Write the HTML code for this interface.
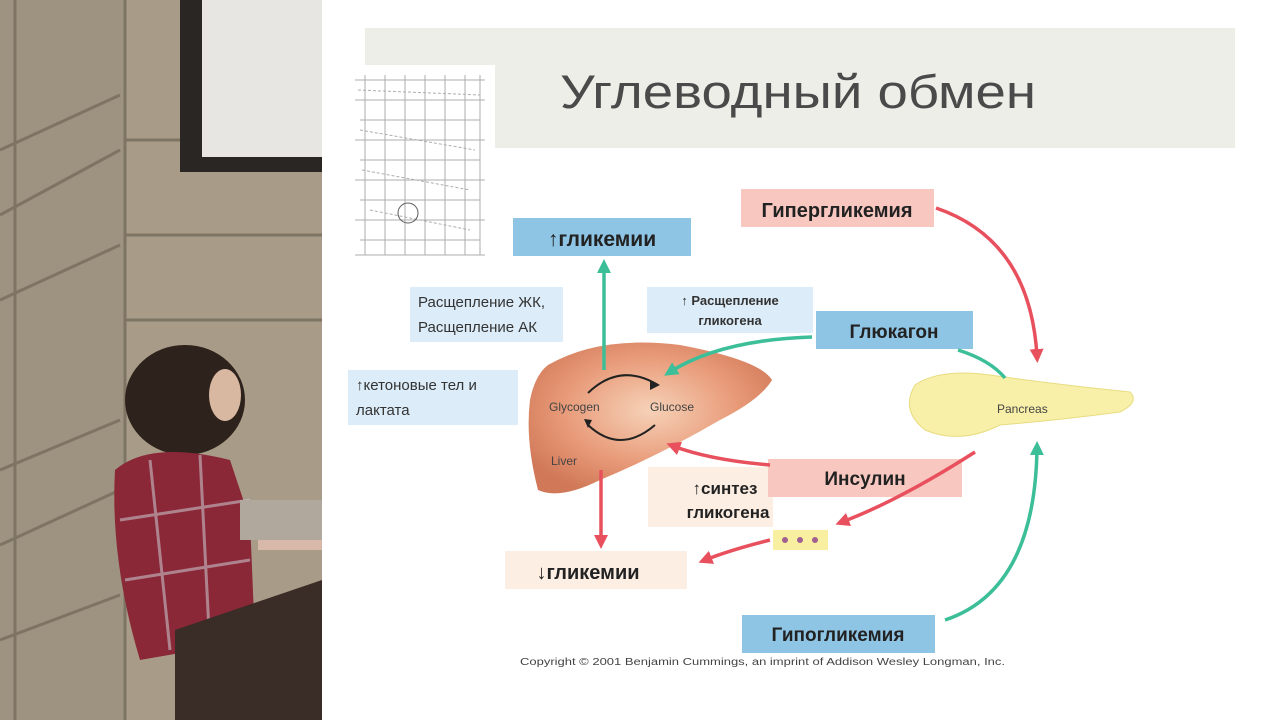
<!DOCTYPE html>
<html><head><meta charset="utf-8"><style>
html,body{margin:0;padding:0;width:1280px;height:720px;overflow:hidden;background:#fff}
svg{display:block}
text{font-family:"Liberation Sans","DejaVu Sans",sans-serif}
</style></head><body>
<svg width="1280" height="720" viewBox="0 0 1280 720" xmlns="http://www.w3.org/2000/svg">
<defs>
<marker id="ag" markerWidth="4" markerHeight="4" refX="2" refY="2" orient="auto" markerUnits="strokeWidth"><path d="M0,0 L4,2 L0,4 z" fill="#3cbf98"/></marker>
<marker id="ar" markerWidth="4" markerHeight="4" refX="2" refY="2" orient="auto" markerUnits="strokeWidth"><path d="M0,0 L4,2 L0,4 z" fill="#e8505e"/></marker>
<radialGradient id="lv" cx="0.5" cy="0.45" r="0.6"><stop offset="0" stop-color="#f6d2b8"/><stop offset="0.6" stop-color="#e89a78"/><stop offset="1" stop-color="#d07858"/></radialGradient>
</defs>
<!-- room photo -->
<rect x="0" y="0" width="322" height="720" fill="#a89c88"/>
<rect x="0" y="0" width="125" height="720" fill="#9e9380"/>
<g stroke="#7e7464" stroke-width="3" fill="none">
<path d="M0,150 L120,95"/><path d="M0,215 L120,150"/><path d="M0,300 L120,245"/><path d="M0,470 L120,420"/><path d="M0,545 L120,490"/><path d="M0,640 L120,595"/>
<path d="M15,0 L15,720"/><path d="M125,0 L125,720"/>
<path d="M125,140 L185,140"/><path d="M125,235 L322,235"/><path d="M125,320 L322,320"/>
</g>
<rect x="180" y="0" width="142" height="172" fill="#2a2624"/>
<rect x="202" y="0" width="120" height="157" fill="#e8e6e2"/>
<!-- person -->
<ellipse cx="185" cy="400" rx="60" ry="55" fill="#2e221c"/>
<ellipse cx="225" cy="395" rx="16" ry="26" fill="#d8b8a0"/>
<path d="M115,470 Q150,440 230,460 L250,520 L255,640 L140,660 Q110,560 115,470 z" fill="#8a2838"/>
<path d="M120,520 L250,500 M125,580 L250,560 M150,460 L170,650 M200,455 L210,650" stroke="#c8c0c8" stroke-width="3" opacity="0.6"/>
<rect x="258" y="520" width="64" height="30" fill="#d8b8a8"/>
<path d="M175,630 L322,580 L322,720 L175,720 z" fill="#3a2c26"/>
<rect x="240" y="500" width="82" height="40" fill="#b0a89c"/>
<!-- slide -->
<rect x="322" y="0" width="958" height="720" fill="#ffffff"/>
<rect x="365" y="28" width="870" height="120" fill="#eeeee8"/>
<text x="560" y="108" font-size="47" fill="#4a4a4a" textLength="476" lengthAdjust="spacingAndGlyphs">Углеводный обмен</text>
<!-- mini pathway image -->
<rect x="345" y="65" width="150" height="195" fill="#fff"/>
<g stroke="#999" stroke-width="1" fill="none" opacity="0.8">
<path d="M355,80 L485,80 M355,100 L485,100 M360,120 L480,120 M355,140 L485,140 M360,160 L480,160 M355,180 L485,180 M360,200 L480,200 M355,220 L485,220 M360,240 L480,240 M355,255 L485,255"/>
<path d="M365,75 L365,255 M385,75 L385,255 M405,75 L405,255 M425,75 L425,255 M445,75 L445,255 M465,75 L465,255 M480,75 L480,255"/>
<path d="M358,90 L480,95 M360,130 L475,150 M362,170 L470,190 M370,210 L470,230" stroke-dasharray="3 2"/>
<circle cx="408" cy="213" r="10" stroke="#333"/>
</g>
<!-- boxes -->
<rect x="513" y="218" width="178" height="38" fill="#8ec4e4"/>
<text x="602" y="246" font-size="21" font-weight="bold" fill="#222" text-anchor="middle">↑гликемии</text>
<rect x="741" y="189" width="193" height="38" fill="#f8c8c0"/>
<text x="837" y="217" font-size="20" font-weight="bold" fill="#222" text-anchor="middle">Гипергликемия</text>
<rect x="410" y="287" width="153" height="55" fill="#dcecf8"/>
<text x="418" y="307" font-size="15" fill="#333">Расщепление ЖК,</text>
<text x="418" y="332" font-size="15" fill="#333">Расщепление АК</text>
<rect x="647" y="287" width="166" height="46" fill="#dcecf8"/>
<text x="730" y="305" font-size="13" font-weight="bold" fill="#333" text-anchor="middle">↑ Расщепление</text>
<text x="730" y="325" font-size="13" font-weight="bold" fill="#333" text-anchor="middle">гликогена</text>
<rect x="816" y="311" width="157" height="38" fill="#8ec4e4"/>
<text x="894" y="338" font-size="19" font-weight="bold" fill="#222" text-anchor="middle">Глюкагон</text>
<rect x="348" y="370" width="170" height="55" fill="#dcecf8"/>
<text x="356" y="390" font-size="15" fill="#333">↑кетоновые тел и</text>
<text x="356" y="415" font-size="15" fill="#333">лактата</text>
<!-- liver -->
<path d="M548,365 Q600,335 680,345 Q760,360 772,380 Q760,400 720,420 Q660,455 600,480 Q560,500 538,490 Q525,440 530,400 Q535,375 548,365 z" fill="url(#lv)"/>
<text x="549" y="411" font-size="12" fill="#444">Glycogen</text>
<text x="650" y="411" font-size="12" fill="#444">Glucose</text>
<text x="551" y="465" font-size="12" fill="#444">Liver</text>
<path d="M588,393 Q620,362 658,385" stroke="#222" stroke-width="2" fill="none"/>
<path d="M655,425 Q620,455 588,425" stroke="#222" stroke-width="2" fill="none"/>
<path d="M650,380 l10,5 l-10,5 z M592,420 l-8,-1 l4,9 z" fill="#222"/>
<!-- pancreas -->
<path d="M915,385 Q940,368 990,375 Q1060,385 1130,392 Q1140,402 1120,412 Q1060,420 1000,425 Q960,445 925,430 Q900,410 915,385 z" fill="#f8f0a8" stroke="#e8dc80"/>
<text x="997" y="413" font-size="12" fill="#444">Pancreas</text>
<!-- insulin etc -->
<rect x="648" y="467" width="125" height="60" fill="#fdeee4"/>
<text x="725" y="494" font-size="17" font-weight="bold" fill="#222" text-anchor="middle">↑синтез</text>
<text x="728" y="518" font-size="17" font-weight="bold" fill="#222" text-anchor="middle">гликогена</text>
<rect x="768" y="459" width="194" height="38" fill="#f8c8c0"/>
<text x="865" y="485" font-size="19" font-weight="bold" fill="#222" text-anchor="middle">Инсулин</text>
<rect x="773" y="530" width="55" height="20" fill="#f8f0a0"/>
<circle cx="785" cy="540" r="3" fill="#a06090"/><circle cx="800" cy="540" r="3" fill="#a06090"/><circle cx="815" cy="540" r="3" fill="#a06090"/>
<rect x="505" y="551" width="182" height="38" fill="#fdeee4"/>
<text x="588" y="579" font-size="20" font-weight="bold" fill="#222" text-anchor="middle">↓гликемии</text>
<rect x="742" y="615" width="193" height="38" fill="#8ec4e4"/>
<text x="838" y="641" font-size="19" font-weight="bold" fill="#222" text-anchor="middle">Гипогликемия</text>
<text x="520" y="665" font-size="10" fill="#444" textLength="485" lengthAdjust="spacingAndGlyphs">Copyright © 2001 Benjamin Cummings, an imprint of Addison Wesley Longman, Inc.</text>
<!-- arrows -->
<g fill="none" stroke-width="3.5">
<path d="M604,370 L604,266" stroke="#3cbf98" marker-end="url(#ag)"/>
<path d="M812,337 Q720,340 670,372" stroke="#3cbf98" marker-end="url(#ag)"/>
<path d="M958,350 Q990,360 1005,378" stroke="#3cbf98"/>
<path d="M936,208 Q1030,240 1037,356" stroke="#e8505e" marker-end="url(#ar)"/>
<path d="M945,620 Q1035,590 1037,448" stroke="#3cbf98" marker-end="url(#ag)"/>
<path d="M975,452 Q900,500 842,522" stroke="#e8505e" marker-end="url(#ar)"/>
<path d="M770,465 Q710,460 673,446" stroke="#e8505e" marker-end="url(#ar)"/>
<path d="M601,470 L601,542" stroke="#e8505e" marker-end="url(#ar)"/>
<path d="M770,540 Q730,550 705,560" stroke="#e8505e" marker-end="url(#ar)"/>
</g>
</svg>
</body></html>
